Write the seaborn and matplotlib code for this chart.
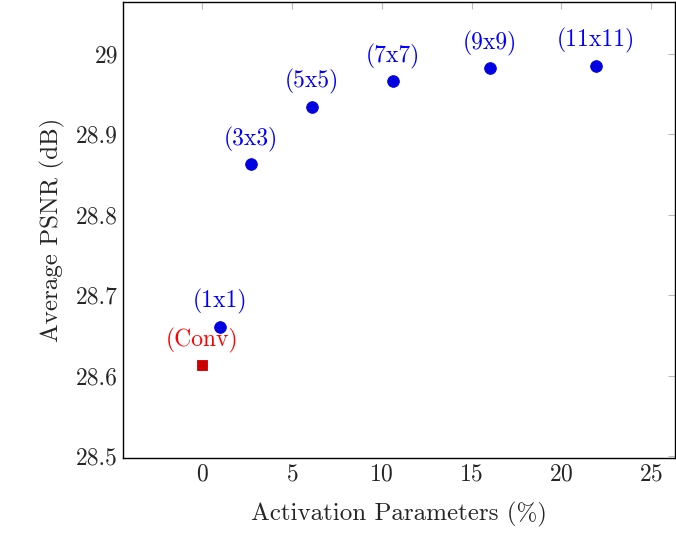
import matplotlib
matplotlib.use("Agg")
import matplotlib.pyplot as plt
import seaborn as sns
import pandas as pd

labels = ["(1x1)", "(3x3)", "(5x5)", "(7x7)", "(9x9)", "(11x11)"]
params = [1.0, 2.7, 6.1, 10.6, 16.0, 21.9]
psnr = [28.661, 28.863, 28.934, 28.966, 28.982, 28.985]
conv_label = "(Conv)"
conv_x = [0.0]
conv_y = [28.613]

sns.set_style("white")
plt.rcParams['font.family'] = ['cmr10', 'DejaVu Serif']
plt.rcParams['mathtext.fontset'] = 'cm'
plt.rcParams['axes.formatter.use_mathtext'] = True

fig, ax = plt.subplots(figsize=(6.76, 5.49), dpi=100)
df = pd.DataFrame({"x": params, "y": psnr})
sns.scatterplot(data=df, x="x", y="y", ax=ax, color="#0000e0", s=70, edgecolor="#0000e0", zorder=3)
sns.scatterplot(x=conv_x, y=conv_y, ax=ax, color="#cc0000", marker="s", s=60, edgecolor="#cc0000", zorder=3)
for l, x, y in zip(labels, params, psnr):
    ax.annotate(l, (x, y), xytext=(0, 9), textcoords="offset points", ha="center", va="bottom", color="#0000ff", fontsize=17)
ax.annotate(conv_label, (conv_x[0], conv_y[0]), xytext=(0, 9), textcoords="offset points", ha="center", va="bottom", color="#ff0000", fontsize=17)

ax.set_xlim(-4.4, 26.3)
ax.set_ylim(28.497, 29.065)
ax.set_xticks([0, 5, 10, 15, 20, 25])
ax.set_yticks([28.5, 28.6, 28.7, 28.8, 28.9, 29.0])
ax.set_yticklabels(["28.5", "28.6", "28.7", "28.8", "28.9", "29"])
ax.tick_params(direction="in", length=5, color="#bbbbbb", top=True, right=True, labelsize=17)
for s in ax.spines.values():
    s.set_color("black"); s.set_linewidth(1.0)
ax.set_xlabel("Activation Parameters (%)", fontsize=18, labelpad=12)
ax.set_ylabel("Average PSNR (dB)", fontsize=18, labelpad=8)
fig.subplots_adjust(left=0.182, right=0.998, top=0.997, bottom=0.165)
fig.savefig("out.png", dpi=100)
